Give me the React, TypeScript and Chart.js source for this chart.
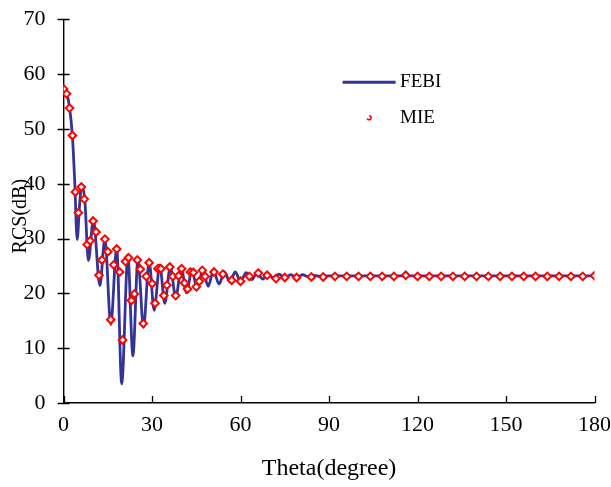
import React, { useEffect, useRef } from "react";
import { Chart, registerables } from "chart.js";

Chart.register(...registerables);

// FEBI curve (theta in degrees, RCS in dB)
const febiTheta = [
  0, 1, 2, 3, 3.8, 4.6, 5.4, 6.1, 7.2, 8.4, 10.1, 12.3, 14.0, 16.0, 18.0, 19.7,
  21.8, 23.5, 25.2, 27.1, 29.0, 30.7, 32.6, 34.3, 36.2, 38.0, 39.9, 41.7, 43.5,
  45.3, 47.2, 49.0, 50.8, 52.7, 54.5, 56.4, 58.2, 60.0, 61.9, 63.8, 65.6, 67.5,
  69.3, 71.2, 73.0, 75.0, 77.0, 79.0, 81.0, 83.0, 85.0, 87.0, 90.0, 120, 150, 180,
];
const febiRcs = [
  57.5, 56.6, 54.0, 48.6, 40.0, 29.8, 36.0, 39.7, 37.0, 26.0, 33.4, 21.4, 30.0,
  14.3, 28.3, 3.5, 26.8, 8.6, 26.2, 13.8, 25.8, 16.9, 25.2, 18.2, 24.9, 19.2,
  24.6, 20.1, 24.3, 20.8, 24.3, 21.3, 24.1, 21.7, 23.9, 22.1, 23.9, 22.2, 23.8,
  22.5, 23.7, 22.6, 23.6, 22.7, 23.5, 22.8, 23.4, 22.9, 23.4, 23.0, 23.3, 23.1,
  23.2, 23.2, 23.2, 23.2,
];

// MIE reference points
const mieTheta = [
  0, 1, 2, 3, 4, 5, 6, 7, 8, 9, 10, 11, 12, 13, 14, 15, 16, 17, 18, 19, 20, 21,
  22, 23, 24, 25, 26, 27, 28, 29, 30, 31, 32, 33, 34, 35, 36, 37, 38, 39, 40, 41,
  42, 43, 44, 45, 46, 47, 48, 51, 54, 57, 60, 63, 66, 69, 72, 75, 79, 84, 88, 92,
  96, 100, 104, 108, 112, 116, 120, 124, 128, 132, 136, 140, 144, 148, 152, 156,
  160, 164, 168, 172, 176, 180,
];
const mieRcs = [
  57.3, 56.4, 53.8, 48.8, 38.5, 34.7, 39.4, 37.2, 28.9, 29.6, 33.2, 31.2, 23.3,
  26.1, 29.9, 27.6, 15.2, 25.2, 28.1, 23.9, 11.5, 25.8, 26.5, 18.7, 19.9, 26.1,
  24.4, 14.5, 23.1, 25.6, 21.8, 18.2, 24.5, 24.5, 19.6, 21.5, 24.8, 23.1, 19.6,
  23.2, 24.5, 21.9, 20.8, 23.9, 23.8, 21.2, 22.2, 24.2, 23.1, 23.9, 23.5, 22.4,
  22.2, 23.1, 23.7, 23.3, 22.7, 22.9, 22.9, 23.0, 23.0, 23.1, 23.1, 23.1, 23.1,
  23.1, 23.1, 23.3, 23.1, 23.1, 23.1, 23.1, 23.1, 23.1, 23.1, 23.1, 23.1, 23.1,
  23.1, 23.1, 23.1, 23.1, 23.1, 23.2,
];

const xTickValues = [0, 30, 60, 90, 120, 150, 180];
const yTickValues = [0, 10, 20, 30, 40, 50, 60, 70];

const FONT = "'Liberation Serif', 'Times New Roman', serif";
const LINE_COLOR = "#333399";
const MARK_COLOR = "#ff0000";

const zeroPad = (s: any) => {
  s.paddingTop = 0;
  s.paddingBottom = 0;
  s.paddingLeft = 0;
  s.paddingRight = 0;
};

const customPlugin = {
  id: "customAxesLegend",
  afterDraw(chart: any) {
    const { ctx, scales, chartArea } = chart;
    const x = scales.x;
    const y = scales.y;
    const ax = x.getPixelForValue(0);
    const ay = y.getPixelForValue(0);
    ctx.save();
    ctx.strokeStyle = "#000";
    ctx.lineWidth = 1.3;
    ctx.beginPath();
    yTickValues.forEach((v) => {
      const py = Math.round(y.getPixelForValue(v)) + 0.5;
      ctx.moveTo(ax - 6, py);
      ctx.lineTo(ax + 6, py);
    });
    xTickValues.forEach((v) => {
      const px = Math.round(x.getPixelForValue(v)) + 0.5;
      ctx.moveTo(px, ay - 7);
      ctx.lineTo(px, ay);
    });
    ctx.stroke();

    // legend
    const lx = chartArea.left;
    const ly = chartArea.top;
    ctx.strokeStyle = LINE_COLOR;
    ctx.lineWidth = 3;
    ctx.beginPath();
    ctx.moveTo(lx + 279, ly + 63);
    ctx.lineTo(lx + 332, ly + 63);
    ctx.stroke();

    ctx.strokeStyle = MARK_COLOR;
    ctx.lineWidth = 1.6;
    ctx.beginPath();
    ctx.arc(lx + 305.5, ly + 98.5, 2, -Math.PI / 2, Math.PI * 0.9);
    ctx.stroke();

    ctx.fillStyle = "#000";
    ctx.font = "19px " + FONT;
    ctx.textBaseline = "middle";
    ctx.textAlign = "left";
    ctx.fillText("FEBI", lx + 336.5, ly + 63);
    ctx.fillText("MIE", lx + 336.5, ly + 99);
    ctx.restore();
  },
};

export default function App() {
  const canvasRef = useRef<HTMLCanvasElement | null>(null);

  useEffect(() => {
    const canvas = canvasRef.current;
    if (!canvas) return;
    const chart = new Chart(canvas, {
      type: "line",
      data: {
        datasets: [
          {
            label: "MIE",
            data: mieTheta.map((t, i) => ({ x: t, y: mieRcs[i] })),
            showLine: false,
            pointStyle: "rectRot",
            pointRadius: 3.8,
            pointBorderWidth: 2,
            pointBackgroundColor: "#ffffff",
            pointBorderColor: MARK_COLOR,
            borderColor: MARK_COLOR,
            order: 0,
          },
          {
            label: "FEBI",
            data: febiTheta.map((t, i) => ({ x: t, y: febiRcs[i] })),
            borderColor: LINE_COLOR,
            borderWidth: 2.8,
            pointRadius: 0,
            cubicInterpolationMode: "monotone",
            fill: false,
            order: 1,
          },
        ],
      },
      options: {
        responsive: false,
        animation: false,
        layout: { padding: { top: 19.3, right: 16.5, left: 0, bottom: 0 } },
        plugins: {
          legend: { display: false },
          tooltip: { enabled: false },
        },
        scales: {
          x: {
            type: "linear",
            min: 0,
            max: 180,
            afterBuildTicks: (s: any) => {
              s.ticks = xTickValues.map((v) => ({ value: v }));
            },
            afterFit: (s: any) => {
              s.height = 84;
              zeroPad(s);
            },
            grid: { display: false, drawTicks: false },
            border: { display: true, color: "#000", width: 1.4 },
            ticks: {
              color: "#000",
              padding: 9.5,
              maxRotation: 0,
              font: { family: FONT, size: 22 },
            },
            title: {
              display: true,
              text: "Theta(degree)",
              color: "#000",
              font: { family: FONT, size: 24 },
              padding: { top: 0, bottom: 3.5 },
            },
          },
          y: {
            type: "linear",
            min: 0,
            max: 70,
            afterBuildTicks: (s: any) => {
              s.ticks = yTickValues.map((v) => ({ value: v }));
            },
            afterFit: (s: any) => {
              s.width = 63.6;
              zeroPad(s);
            },
            grid: { display: false, drawTicks: false },
            border: { display: true, color: "#000", width: 1.4 },
            ticks: {
              color: "#000",
              padding: 18,
              font: { family: FONT, size: 22 },
            },
            title: {
              display: true,
              text: "RCS(dB)  ",
              color: "#000",
              font: { family: FONT, size: 20 },
              padding: { top: 9, bottom: 0 },
            },
          },
        },
      },
      plugins: [customPlugin],
    } as any);
    return () => chart.destroy();
  }, []);

  return (
    <div style={{ position: "absolute", left: 0, top: 0, width: 611, height: 487, background: "#fff" }}>
      <canvas ref={canvasRef} width={611} height={487} style={{ display: "block" }} />
    </div>
  );
}
